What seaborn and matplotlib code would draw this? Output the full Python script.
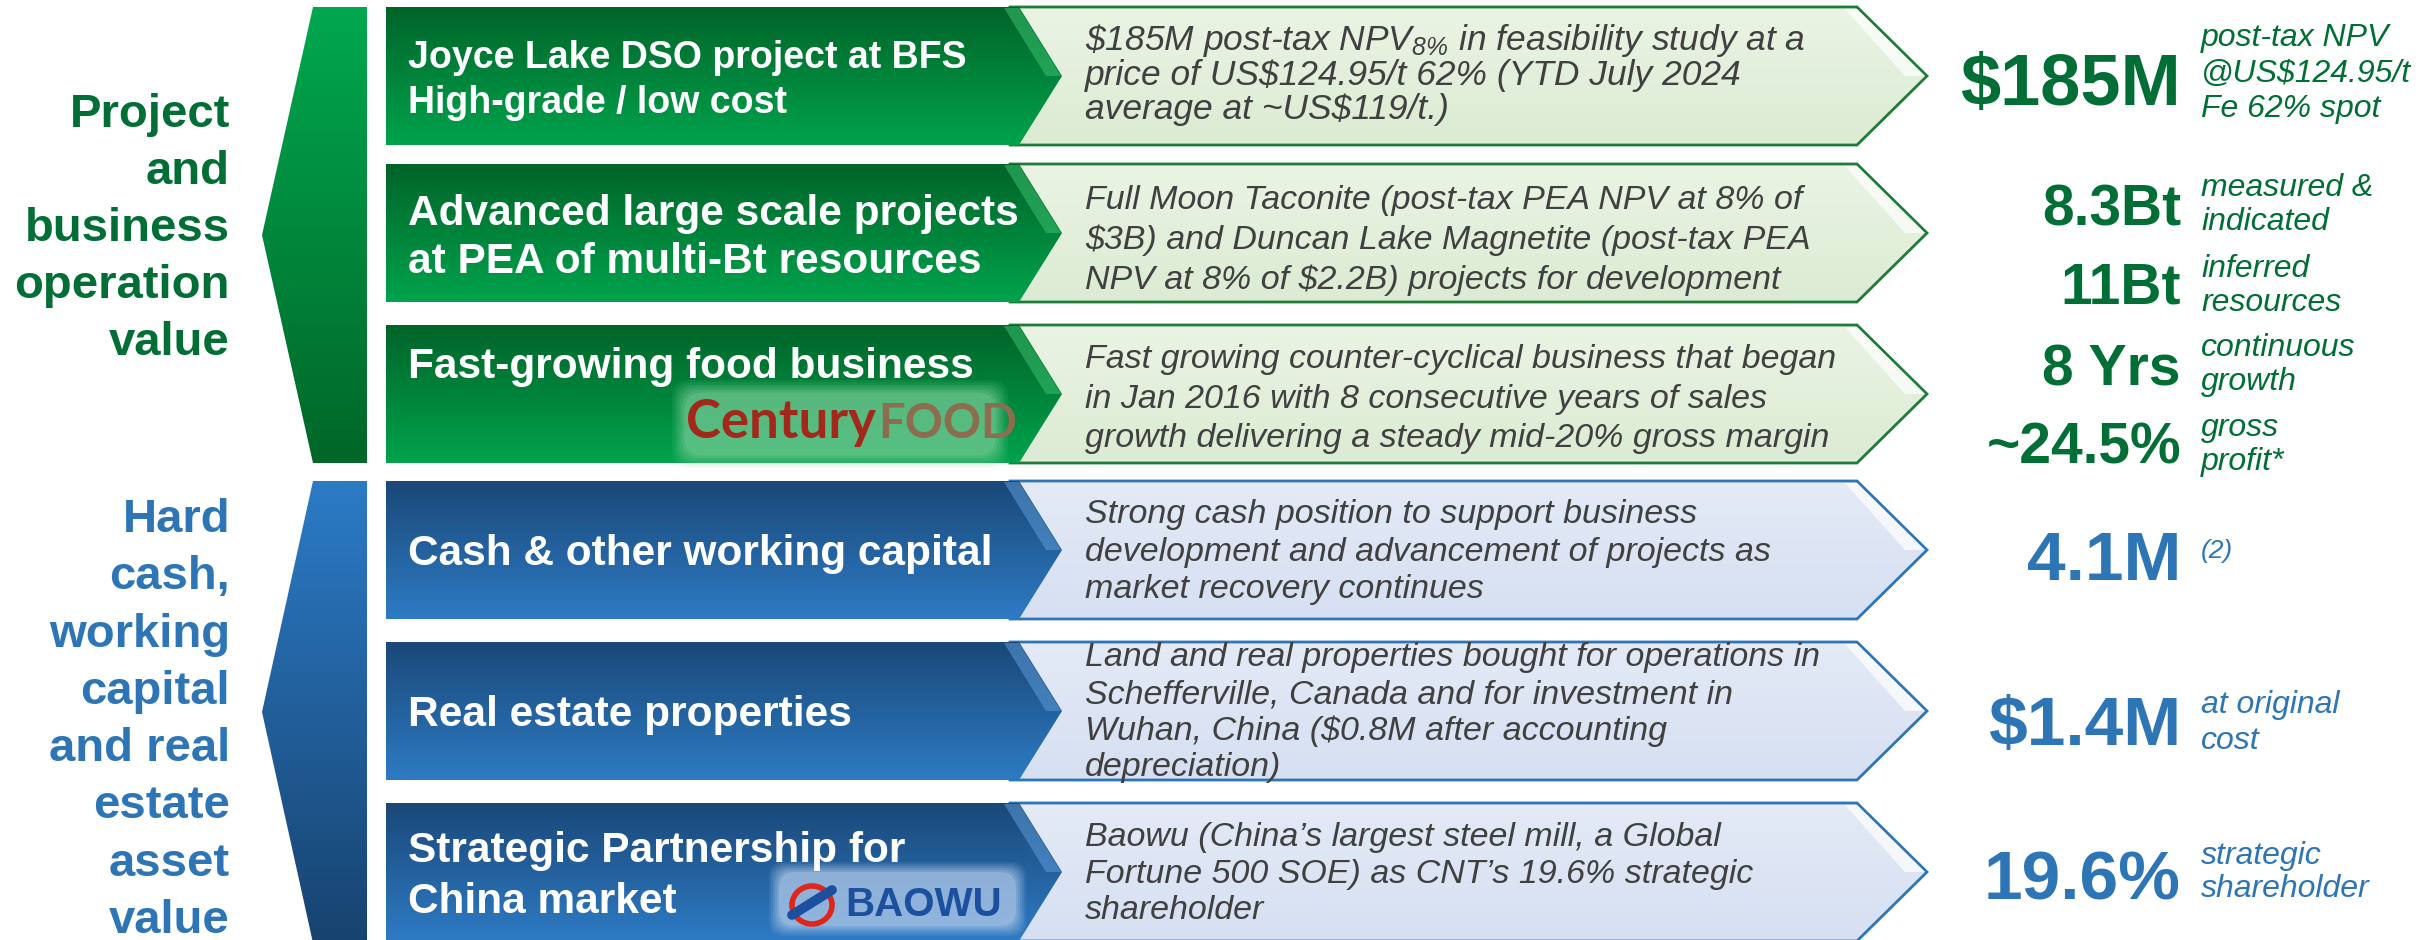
import numpy as np
import matplotlib
matplotlib.use("Agg")
import matplotlib.pyplot as plt
import seaborn as sns
from matplotlib.patches import Polygon, FancyBboxPatch, Ellipse
from matplotlib.colors import LinearSegmentedColormap
from matplotlib import font_manager as fm

# ---- data ----
group_labels = [["Project", "and", "business", "operation", "value"],
                ["Hard", "cash,", "working", "capital", "and real", "estate", "asset", "value"]]
row_group = [0, 0, 0, 1, 1, 1]
row_titles = [["Joyce Lake DSO project at BFS", "High-grade / low cost"],
              ["Advanced large scale projects", "at PEA of multi-Bt resources"],
              ["Fast-growing food business"],
              ["Cash & other working capital"],
              ["Real estate properties"],
              ["Strategic Partnership for", "China market"]]
row_descs = [[r"\$185M post-tax NPV$_{8\%}$ in feasibility study at a",
              "price of US$124.95/t 62% (YTD July 2024",
              "average at ~US$119/t.)"],
             ["Full Moon Taconite (post-tax PEA NPV at 8% of",
              "$3B) and Duncan Lake Magnetite (post-tax PEA",
              "NPV at 8% of $2.2B) projects for development"],
             ["Fast growing counter-cyclical business that began",
              "in Jan 2016 with 8 consecutive years of sales",
              "growth delivering a steady mid-20% gross margin"],
             ["Strong cash position to support business",
              "development and advancement of projects as",
              "market recovery continues"],
             ["Land and real properties bought for operations in",
              "Schefferville, Canada and for investment in",
              "Wuhan, China ($0.8M after accounting",
              "depreciation)"],
             ["Baowu (China\u2019s largest steel mill, a Global",
              "Fortune 500 SOE) as CNT\u2019s 19.6% strategic",
              "shareholder"]]
row_values = [["$185M"], ["8.3Bt", "11Bt"], ["8 Yrs", "~24.5%"], ["4.1M"], ["$1.4M"], ["19.6%"]]
row_notes = [[["post-tax NPV", "@US$124.95/t", "Fe 62% spot"]],
             [["measured &", "indicated"], ["inferred", "resources"]],
             [["continuous", "growth"], ["gross", "profit*"]],
             [["(2)"]],
             [["at original", "cost"]],
             [["strategic", "shareholder"]]]

# ---- layout / style ----
row_top = [7, 164, 325, 481, 642, 803]
row_h = 138
group_span = [(7, 463), (481, 943)]
title_base = [[68, 113], [225, 273], [378], [565], [726], [862, 913]]
desc_base = [[50, 85, 119], [209, 249, 289], [368, 408, 447], [523, 561, 598],
             [666, 703, 740, 776], [846, 883, 919]]
value_base = [[105], [225, 304], [385, 463], [580], [745], [899]]
note_base = [[[46, 82, 117]], [[196, 230], [277, 311]], [[356, 390], [436, 470]],
             [[558]], [[713, 749]], [[864, 897]]]
value_size = [[52], [41, 41], [41, 41], [50], [50], [50]]
group_label_base = [127, 532]
group_label_step = [57, 57.3]

pal = {
    0: dict(text="#006e35", dark=("#006429", "#00a34d"), brk=("#00a84f", "#006629"),
            light=("#eaf4e4", "#dcebd3"), edge="#1e7b3a", bevel="#3cbf6e"),
    1: dict(text="#2e75b6", dark=("#1a4878", "#2e7bc4"), brk=("#2c7bc6", "#17436f"),
            light=("#e4eaf6", "#d6e0f2"), edge="#2e75b6", bevel="#5d9ad6"),
}
desc_color = "#404040"

sns.set_theme(style="white")
names = {f.name for f in fm.fontManager.ttflist}
has_narrow = "Liberation Sans Narrow" in names
plt.rcParams["font.family"] = ["Liberation Sans", "DejaVu Sans"]
plt.rcParams["mathtext.default"] = "regular"
narrow = ["Liberation Sans Narrow", "Liberation Sans"] if has_narrow else ["Liberation Sans"]

fig = plt.figure(figsize=(24.3, 9.4), dpi=100)
ax = fig.add_axes([0, 0, 1, 1])
ax.set_xlim(0, 2430)
ax.set_ylim(940, 0)
ax.axis("off")


def grad_poly(pts, c0, c1, z, ec="none", lw=0):
    poly = Polygon(pts, closed=True, fc="none", ec=ec, lw=lw, zorder=z + 0.5, joinstyle="miter")
    ax.add_patch(poly)
    xs, ys = zip(*pts)
    cmap = LinearSegmentedColormap.from_list("g", [c0, c1])
    im = ax.imshow(np.linspace(0, 1, 256)[:, None], cmap=cmap, aspect="auto",
                   extent=(min(xs), max(xs), max(ys), min(ys)), zorder=z,
                   interpolation="bilinear")
    im.set_clip_path(poly)


def lines(x, bases, txts, math=False, **kw):
    for y, t in zip(bases, txts):
        ax.text(x, y, t, va="baseline", parse_math=math or ("$_" in t), **kw)


# brackets + group labels
for g, (t, b) in enumerate(group_span):
    m = (t + b) / 2
    grad_poly([(313, t), (367, t), (367, b), (313, b), (262, m)], *pal[g]["brk"], z=2)
    bases = [group_label_base[g] + i * group_label_step[g] for i in range(len(group_labels[g]))]
    lines(230, bases, group_labels[g], ha="right", fontsize=34, fontweight="bold",
          color=pal[g]["text"])

# rows
for i in range(6):
    g = row_group[i]
    c = pal[g]
    t = row_top[i]
    b = t + row_h
    m = (t + b) / 2
    # light chevron
    grad_poly([(1010, t), (1857, t), (1927, m), (1857, b), (1010, b)], *c["light"], z=3,
              ec=c["edge"], lw=2)
    ax.add_patch(Polygon([(1845, t + 2), (1857, t + 2), (1925, m), (1905, m)], closed=True,
                         fc="white", ec="none", alpha=0.7, zorder=3.6))
    # dark arrow
    grad_poly([(386, t), (1019, t), (1062, m), (1019, b), (386, b)], *c["dark"], z=4)
    ax.add_patch(Polygon([(1004, t + 1), (1019, t + 1), (1061, m), (1046, m)], closed=True,
                         fc=c["bevel"], ec="none", alpha=0.55, zorder=4.6))

    # titles
    if i == 0:
        kw = dict(fontsize=32 if has_narrow else 27, family=narrow)
    else:
        kw = dict(fontsize=30.5)
    lines(408, title_base[i], row_titles[i], color="white", fontweight="bold", zorder=6, **kw)

    # descriptions
    if i == 0:
        kw = dict(fontsize=28 if has_narrow else 25.5, family=narrow)
    else:
        kw = dict(fontsize=24.5)
    lines(1085, desc_base[i], row_descs[i], color=desc_color, style="italic", zorder=6, **kw)

    # values + notes
    for v, vb, vs, nt, nb in zip(row_values[i], value_base[i], value_size[i],
                                 row_notes[i], note_base[i]):
        ax.text(2181, vb, v, ha="right", va="baseline", fontsize=vs, fontweight="bold",
                color=c["text"], parse_math=False)
        fs = 19 if nt == ["(2)"] else 23
        lines(2201, nb, nt, color=c["text"], style="italic", fontsize=fs)

# logo: CenturyFOOD
for k, a in zip(range(6), [0.10, 0.12, 0.15, 0.18, 0.22, 0.3]):
    pad = 14 - 2.5 * k
    ax.add_patch(FancyBboxPatch((690 - pad, 398 - pad), 300 + 2 * pad, 52 + 2 * pad,
                                boxstyle="round,pad=4,rounding_size=18", fc="#7fd09c",
                                ec="none", alpha=a, zorder=5))
ax.text(876, 438, "Century", ha="right", va="baseline", fontsize=38, color="#a3281c",
        family=["Lato", "Liberation Sans"], fontweight="bold", zorder=6)
ax.text(878, 438, "FOOD", ha="left", va="baseline", fontsize=34, color="#8c6d4f",
        family=["Lato", "Liberation Sans"], fontweight="bold", zorder=6)

# logo: BAOWU
for k, a in zip(range(6), [0.10, 0.12, 0.15, 0.18, 0.22, 0.35]):
    pad = 12 - 2 * k
    ax.add_patch(FancyBboxPatch((785 - pad, 878 - pad), 225 + 2 * pad, 42 + 2 * pad,
                                boxstyle="round,pad=4,rounding_size=16", fc="#b9d0ee",
                                ec="none", alpha=a, zorder=5))
ax.add_patch(Ellipse((812, 905), 40, 38, fc="none", ec="#e0261b", lw=4, zorder=6))
ax.plot([792, 832], [915, 890], color="#1d4f9f", lw=7, solid_capstyle="round", zorder=6.5)
ax.text(845, 916, "BAOWU", ha="left", va="baseline", fontsize=29, fontweight="bold",
        color="#1d4f9f", zorder=6)

ax.set_xlim(0, 2430)
ax.set_ylim(940, 0)
fig.savefig("out.png", dpi=100)
